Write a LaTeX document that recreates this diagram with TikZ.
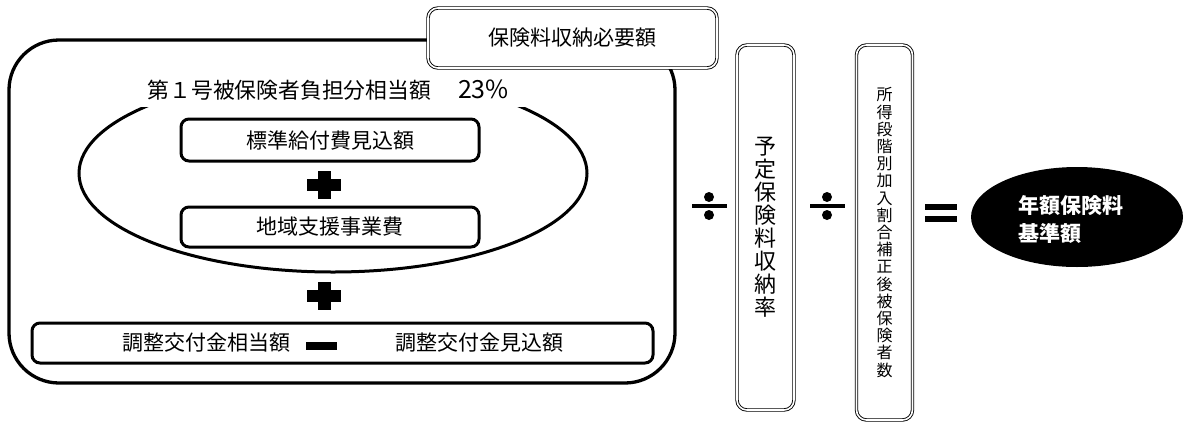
\documentclass[tikz,border=0pt]{standalone}
\usepackage{fontspec}
\setmainfont{Noto Sans CJK JP}
\usetikzlibrary{shapes.geometric}
\tikzset{
  txt/.style={font=\fontsize{21}{24}\selectfont, text=black, inner sep=0pt},
  thickbox/.style={draw=black, line width=3pt, rounded corners=8pt, fill=white},
  dblbox/.style={draw=black, double=white, double distance=1.6pt, line width=0.9pt, rounded corners=10pt, fill=white},
  opfill/.style={fill=black, draw=none},
}
\begin{document}
\begin{tikzpicture}[x=1pt,y=-1pt]
\useasboundingbox (0,0) rectangle (1184,421);
% big rounded frame
\draw[line width=3.3pt, rounded corners=50pt] (9,40) rectangle (675,383);
% ellipse
\draw[line width=3pt] (333,173.3) ellipse [x radius=254, y radius=98.7];
% mask for the label over the ellipse
\fill[white] (128,64) rectangle (535,107);
\node[txt, anchor=east, font=\fontsize{21.8}{24}\selectfont] (lbl) at (509,90) {第１号被保険者負担分相当額\hspace{27pt}{\fontsize{25}{25}\selectfont 23\%}};
% header box
\node[dblbox, minimum width=289pt, minimum height=60pt, txt] (hdr) at (572.5,38) {保険料収納必要額};
% inner boxes
\node[thickbox, minimum width=298pt, minimum height=42pt, txt] (b1) at (330,140) {標準給付費見込額};
\node[thickbox, minimum width=298pt, minimum height=40pt, txt] (b2) at (330,227) {地域支援事業費};
\node[thickbox, minimum width=621pt, minimum height=40pt] (b3) at (342.5,343) {};
\node[txt, anchor=west] (t3a) at (122,343) {調整交付金相当額};
\node[txt, anchor=east] (t3b) at (564,343) {調整交付金見込額};
% plus signs
\coordinate (p1) at (324,185);
\coordinate (p2) at (324,296);
\foreach \p in {p1,p2}{
  \fill[opfill] ([xshift=-17pt,yshift=6pt]\p) rectangle ([xshift=17pt,yshift=-6pt]\p);
  \fill[opfill] ([xshift=-6.5pt,yshift=14pt]\p) rectangle ([xshift=6.5pt,yshift=-14pt]\p);
}
% minus
\coordinate (m1) at (321.5,346);
\fill[opfill] ([xshift=-15.5pt,yshift=4pt]m1) rectangle ([xshift=15.5pt,yshift=-4pt]m1);
% vertical boxes
\node[dblbox, minimum width=57pt, minimum height=365pt] (v1) at (765.5,227.5) {};
\node[txt, align=center, font=\fontsize{22}{23}\selectfont] (v1t) at (v1.center) {予\\定\\保\\険\\料\\収\\納\\率};
\node[dblbox, minimum width=56pt, minimum height=375pt] (v2) at (884.5,232.5) {};
\node[txt, align=center, font=\fontsize{16}{17.2}\selectfont] (v2t) at (v2.center) {所\\得\\段\\階\\別\\加\\入\\割\\合\\補\\正\\後\\被\\保\\険\\者\\数};
% divide signs
\coordinate (d1) at (709,206);
\coordinate (d2) at (827,206);
\foreach \d in {d1,d2}{
  \fill[opfill] ([xshift=-17.5pt,yshift=1.8pt]\d) rectangle ([xshift=17.5pt,yshift=-1.8pt]\d);
  \fill[opfill] ([yshift=9pt]\d) circle (5pt);
  \fill[opfill] ([yshift=-9pt]\d) circle (5pt);
}
% equals
\coordinate (eq) at (941,213);
\fill[opfill] ([xshift=-16pt,yshift=-9pt]eq) rectangle ([xshift=16pt,yshift=-3pt]eq);
\fill[opfill] ([xshift=-16pt,yshift=3pt]eq) rectangle ([xshift=16pt,yshift=9pt]eq);
% result ellipse
\node[ellipse, fill=black, minimum width=212pt, minimum height=100pt] (res) at (1077,217) {};
\node[anchor=west, align=left, text=white, inner sep=0pt, font=\fontsize{21}{28}\selectfont\bfseries] (rest) at (1018,219) {年額保険料\\基準額};
\end{tikzpicture}
\end{document}
